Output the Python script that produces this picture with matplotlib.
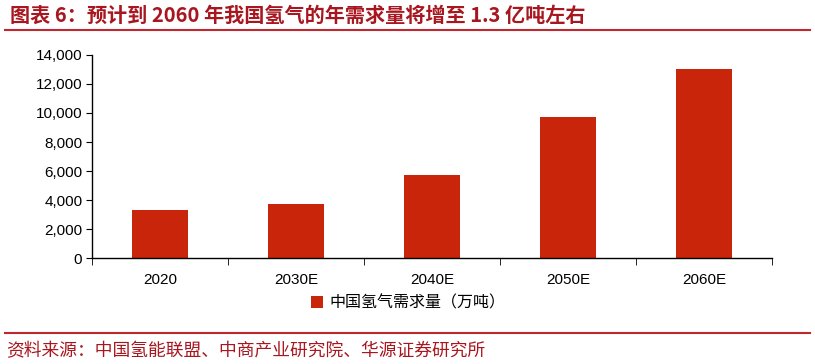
import matplotlib.pyplot as plt
from matplotlib.lines import Line2D

plt.rcParams['font.family'] = ['Liberation Sans', 'Noto Sans CJK SC', 'DejaVu Sans']

years = ['2020', '2030E', '2040E', '2050E', '2060E']
demand = [3342, 3715, 5700, 9690, 13030]
series_name = '中国氢气需求量（万吨）'
title = '图表 6：预计到 2060 年我国氢气的年需求量将增至 1.3 亿吨左右'
source = '资料来源：中国氢能联盟、中商产业研究院、华源证券研究所'

bar_color = '#C8250A'
dark_red = '#A8161F'

fig = plt.figure(figsize=(8.15, 3.64), dpi=100)
ax = fig.add_axes([0.113, 0.291, 0.834, 0.558])

x = list(range(len(years)))
ax.bar(x, demand, width=0.41, color=bar_color, label=series_name)
ax.set_xlim(-0.5, len(years) - 0.5)
ax.set_ylim(0, 14000)
ax.set_yticks(range(0, 14001, 2000))
ax.set_yticklabels([f'{v:,}' for v in range(0, 14001, 2000)])
ax.set_xticks(x)
ax.set_xticklabels(years)
ax.set_xticks([i - 0.5 for i in range(len(years) + 1)], minor=True)
ax.tick_params(axis='x', which='major', length=0, pad=11, labelsize=11)
ax.tick_params(axis='x', which='minor', length=5, direction='out')
ax.tick_params(axis='y', length=4, labelsize=11, pad=3)
for s in ['top', 'right']:
    ax.spines[s].set_visible(False)
ax.spines['left'].set_linewidth(1)
ax.spines['bottom'].set_linewidth(1)

ax.legend(loc='upper center', bbox_to_anchor=(0.465, -0.11), frameon=False,
          handlelength=0.8, handleheight=0.8, handletextpad=0.4,
          prop={'family': ['Noto Sans CJK SC', 'DejaVu Sans'], 'size': 11.5})

fig.text(0.012, 0.958, title, fontsize=14.5, color=dark_red, fontweight='bold',
         va='center', family=['Noto Sans CJK SC', 'DejaVu Sans'])
fig.add_artist(Line2D([0.006, 0.994], [0.918, 0.918], color='#C0282F', lw=1.5))
fig.add_artist(Line2D([0.006, 0.994], [0.085, 0.085], color='#C0282F', lw=1.5))
fig.text(0.008, 0.035, source, fontsize=12.8, color=dark_red, va='center',
         family=['Noto Sans CJK SC', 'DejaVu Sans'])

fig.savefig('out.png', dpi=100)
